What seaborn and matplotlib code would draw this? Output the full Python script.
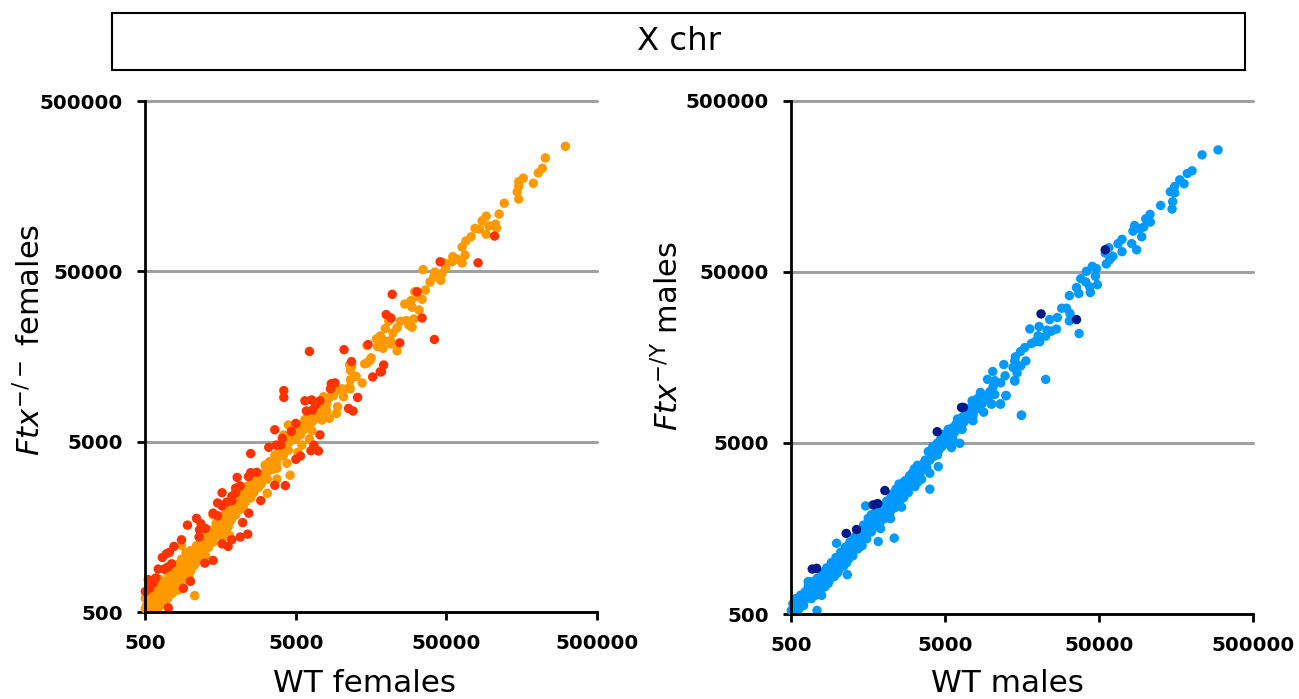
import numpy as np
import pandas as pd
import matplotlib
matplotlib.use("Agg")
import matplotlib.pyplot as plt
from matplotlib.patches import Rectangle
import seaborn as sns

# All points: (WT, mutant) as log10 fold above the axis origin of 500
orange_pts = [
(2.79,2.734),(2.657,2.666),(2.637,2.605),(2.61,2.578),(2.577,2.517),(2.51,2.547),(2.48,2.527),(2.48,2.50),(2.47,2.467),(2.48,2.424),
(2.384,2.40),(2.35,2.336),(2.264,2.324),(2.237,2.297),(2.326,2.277),(2.282,2.267),(2.333,2.254),(2.19,2.252),(2.22,2.248),(2.264,2.218),
(2.164,2.203),(2.129,2.178),(2.104,2.142),(2.124,2.095),(2.042,2.086),(2.07,2.072),(2.104,2.049),(2.038,2.056),(1.987,2.049),(1.994,2.023),
(1.845,2.01),(1.923,1.996),(1.971,1.988),(1.916,1.968),(1.962,1.947),(1.891,1.937),(1.86,1.89),(1.79,1.88),(1.838,1.836),(1.81,1.851),
(1.765,1.828),(1.723,1.808),(1.772,1.789),(1.818,1.773),(1.783,1.72),(1.694,1.707),(1.734,1.711),(1.617,1.707),(1.75,1.685),(1.772,1.672),
(1.672,1.668),(1.594,1.664),(1.645,1.638),(1.561,1.621),(1.535,1.603),(1.583,1.594),(1.628,1.594),(1.632,1.574),(1.472,1.564),(1.543,1.558),
(1.579,1.548),(1.672,1.533),(1.50,1.492),(1.484,1.472),(1.457,1.457),(1.357,1.451),(1.362,1.418),(1.40,1.383),(1.362,1.363),(1.44,1.345),
(1.357,1.32),(1.306,1.31),(1.262,1.305),(1.37,1.44),(1.47,1.46),(1.495,1.48),(1.317,1.307),(1.27,1.30),(1.36,1.31),(1.184,1.264),
(1.23,1.264),(1.317,1.264),(1.277,1.205),(1.27,1.166),(1.206,1.225),(1.206,1.176),(1.222,1.137),(1.173,1.127),(1.118,1.127),(1.14,1.166),
(1.106,1.064),(0.95,1.098),(1.013,1.088),(1.03,1.04),(1.089,1.016),(1.04,0.98),(1.013,0.9375),(0.962,0.803),(0.874,0.781),(0.94,0.873),
(0.81,0.697),(0.874,0.844),(0.796,0.863),(0.825,0.883),(0.918,0.922),(0.874,0.922),(1.03,1.068),(0.918,1.039),(1.095,1.107),
(0.0,0.02),(0.01,0.04),(0.02,0.02),(0.03,0.05),(0.04,0.02),(0.05,0.08),(0.06,0.02),(0.07,0.04),(0.0,0.08),(0.02,0.09),
(0.08,0.09),(0.09,0.03),(0.10,0.07),(0.11,0.12),(0.12,0.05),(0.13,0.08),(0.08,0.14),(0.12,0.16),(0.14,0.18),(0.10,0.19),
(0.15,0.13),(0.16,0.20),(0.17,0.16),(0.18,0.21),(0.19,0.14),(0.20,0.24),(0.21,0.17),(0.22,0.22),(0.23,0.28),(0.24,0.20),
(0.25,0.26),(0.26,0.31),(0.27,0.23),(0.28,0.30),(0.29,0.26),(0.30,0.36),(0.31,0.30),(0.32,0.27),(0.33,0.34),(0.34,0.39),
(0.35,0.32),(0.36,0.37),(0.37,0.34),(0.38,0.42),(0.39,0.36),(0.40,0.40),(0.41,0.45),(0.42,0.38),(0.43,0.43),(0.44,0.48),
(0.45,0.41),(0.46,0.47),(0.47,0.52),(0.48,0.45),(0.49,0.50),(0.50,0.55),(0.51,0.48),(0.52,0.53),(0.53,0.58),(0.54,0.51),
(0.55,0.56),(0.56,0.61),(0.57,0.54),(0.58,0.59),(0.59,0.64),(0.60,0.57),(0.61,0.62),(0.62,0.67),(0.63,0.62),(0.64,0.66),
(0.65,0.70),(0.66,0.64),(0.67,0.69),(0.68,0.74),(0.69,0.67),(0.70,0.72),(0.71,0.76),(0.72,0.70),(0.73,0.75),(0.74,0.79),
(0.75,0.73),(0.76,0.78),(0.78,0.81),(0.80,0.85),(0.82,0.83),(0.84,0.88),(0.86,0.92),(0.88,0.90),(0.90,0.95),(0.92,0.99),
(0.94,1.02),(0.96,1.0),(0.98,1.05),(1.0,1.02),(1.02,1.08),(1.04,1.1),(1.06,1.13),(1.08,1.10),(1.10,1.16),(1.12,1.19),
(1.15,1.17),(1.17,1.22),(0.328,0.096),(0.22,0.13),(0.28,0.19),(0.18,0.11),(0.13,0.13),(0.2,0.17),(0.05,0.11),(0.25,0.21),
(0.30,0.24),(0.15,0.23),(0.22,0.28),(0.27,0.35),(0.24,0.39),(0.33,0.28),(0.40,0.33),(0.38,0.31),(0.52,0.44),(0.55,0.50),
(0.43,0.47),(0.45,0.57),(0.50,0.45),(0.60,0.63),(0.65,0.61),(0.70,0.67),(0.75,0.80),(0.56,0.45),
(0.03,0.10),(0.06,0.06),(0.09,0.10),(0.12,0.11),(0.07,0.12),(0.15,0.08),(0.18,0.15),(0.11,0.16),(0.16,0.14),(0.20,0.13),
(0.23,0.18),(0.19,0.22),(0.26,0.24),(0.29,0.21),(0.24,0.31),(0.31,0.34),(0.34,0.30),(0.28,0.26),(0.36,0.33),(0.39,0.41),
(0.41,0.39),(0.44,0.42),(0.47,0.46),(0.49,0.53),(0.53,0.49),(0.56,0.53),(0.58,0.63),(0.62,0.60),(0.66,0.69),(0.69,0.73),
(0.72,0.74),(0.77,0.75),(0.79,0.80),(0.81,0.78),(0.83,0.87),(0.85,0.84),(0.87,0.87),(0.89,0.94),(0.91,0.92),(0.93,0.96),
(0.95,0.95),(0.97,1.01),(1.0,1.06),(1.05,1.07),(1.09,1.13),(1.11,1.12),(1.14,1.21),(1.18,1.18),(1.20,1.21),(1.25,1.27),
]
red_pts = [
(1.09,1.53),(1.32,1.54),(1.48,1.57),(1.37,1.47),(1.51,1.38),(1.56,1.41),(0.92,1.30),(0.92,1.26),(1.235,1.34),(1.26,1.345),
(1.23,1.31),(1.41,1.26),(1.35,1.195),(1.38,1.18),(1.06,1.24),(1.105,1.245),(1.16,1.24),(1.13,1.215),(1.07,1.18),(1.11,1.185),
(0.86,1.07),(0.97,1.06),(1.0,1.107),(1.16,1.04),(0.91,1.02),(0.82,0.967),(0.87,0.98),(0.90,0.98),(1.12,0.98),(1.10,0.947),
(1.15,0.945),(0.70,0.93),(1.03,0.916),(1.0,0.896),(0.61,0.79),(0.685,0.795),(0.70,0.818),(0.74,0.82),(0.86,0.744),(0.93,0.742),
(0.63,0.74),(0.60,0.727),(0.51,0.70),(0.60,0.70),(0.575,0.68),(0.767,0.654),(0.575,0.654),(0.54,0.645),(0.48,0.64),(0.51,0.623),
(0.687,0.58),(0.45,0.58),(0.48,0.565),(0.34,0.55),(0.647,0.525),(0.28,0.51),(0.37,0.518),(0.40,0.49),(0.36,0.482),(0.357,0.44),
(0.68,0.457),(0.63,0.44),(0.574,0.424),(0.51,0.40),(0.55,0.385),(0.24,0.424),(0.19,0.385),(0.16,0.35),(0.14,0.342),(0.113,0.32),
(0.45,0.303),(0.395,0.287),(0.175,0.283),(0.15,0.264),(0.126,0.252),(0.086,0.252),(0.30,0.18),(0.253,0.139),(0.07,0.20),(0.02,0.19),
(0.053,0.17),(0.03,0.14),(0.0,0.12),(0.153,0.025),
(2.32,2.207),(2.21,2.05),(1.958,2.056),(1.805,1.88),(1.64,1.865),(1.60,1.746),(1.632,1.726),(1.838,1.726),(1.92,1.60),(1.69,1.58),
(1.583,1.45),(1.568,1.41),
]
blue_pts = [
(2.773,2.714),(2.669,2.685),(2.604,2.592),(2.573,2.576),(2.524,2.539),(2.552,2.516),(2.491,2.50),(2.463,2.469),(2.491,2.463),(2.478,2.411),
(2.40,2.389),(2.474,2.368),(2.331,2.337),(2.303,2.311),(2.333,2.292),(2.231,2.272),(2.264,2.253),(2.29,2.263),(2.22,2.239),(2.277,2.206),
(2.149,2.191),(2.123,2.166),(2.212,2.166),(2.244,2.13),(2.149,2.119),(2.063,2.142),(2.04,2.111),(2.09,2.092),(2.069,2.072),(2.047,2.047),
(1.956,2.033),(1.982,2.02),(1.918,2.004),(1.976,1.975),(1.881,1.961),(1.913,1.942),(1.989,1.926),(1.939,1.913),(1.853,1.909),(1.868,1.874),
(1.943,1.88),(1.807,1.862),(1.757,1.788),(1.788,1.788),(1.811,1.757),(1.729,1.734),(1.807,1.714),(1.679,1.722),(1.61,1.681),(1.55,1.667),
(1.723,1.666),(1.69,1.654),(1.662,1.66),(1.87,1.64),(1.653,1.625),(1.604,1.627),(1.614,1.592),(1.582,1.592),(1.56,1.582),(1.517,1.558),
(1.489,1.535),(1.456,1.504),(1.452,1.48),(1.524,1.48),(1.491,1.451),(1.441,1.442),(1.381,1.459),(1.467,1.41),(1.309,1.418),(1.389,1.393),
(1.275,1.372),(1.452,1.366),(1.653,1.372),(1.322,1.364),(1.361,1.352),(1.311,1.329),(1.229,1.296),(1.29,1.30),(1.322,1.284),(1.396,1.278),
(1.247,1.261),(1.301,1.228),(1.359,1.228),(1.175,1.247),(1.203,1.202),(1.16,1.193),(1.495,1.162),(1.182,1.163),(1.127,1.163),
(0.90,0.73),(0.90,0.823),(0.955,0.862),(0.803,0.745),(0.846,0.788),(0.669,0.444),(0.565,0.424),(0.294,0.414),(0.483,0.632),(0.364,0.23),
(0.197,0.109),(0.167,0.021),(0.024,0.015),(1.496,1.163),(1.452,1.362),(1.394,1.276),(1.359,1.228),(1.30,1.228),(1.095,0.998),(1.041,0.973),
(0.716,0.625),(0.645,0.558),(0.446,0.395),
(0.0,0.02),(0.01,0.06),(0.02,0.03),(0.03,0.09),(0.04,0.05),(0.05,0.03),(0.06,0.11),(0.07,0.07),(0.08,0.05),(0.09,0.13),
(0.10,0.09),(0.11,0.16),(0.12,0.12),(0.13,0.09),(0.14,0.19),(0.15,0.14),(0.16,0.11),(0.17,0.21),(0.18,0.17),(0.19,0.14),
(0.20,0.24),(0.21,0.19),(0.22,0.16),(0.23,0.27),(0.24,0.23),(0.25,0.20),(0.26,0.30),(0.27,0.25),(0.28,0.22),(0.29,0.33),
(0.30,0.29),(0.31,0.26),(0.32,0.36),(0.33,0.31),(0.34,0.28),(0.35,0.39),(0.36,0.35),(0.37,0.32),(0.38,0.42),(0.39,0.37),
(0.40,0.34),(0.41,0.45),(0.42,0.41),(0.43,0.38),(0.44,0.48),(0.45,0.43),(0.46,0.40),(0.47,0.52),(0.48,0.47),(0.49,0.44),
(0.50,0.56),(0.51,0.51),(0.52,0.48),(0.53,0.58),(0.54,0.55),(0.55,0.51),(0.56,0.61),(0.57,0.57),(0.58,0.54),(0.59,0.63),
(0.60,0.60),(0.61,0.56),(0.62,0.66),(0.63,0.62),(0.64,0.59),(0.65,0.70),(0.66,0.65),(0.67,0.62),(0.68,0.73),(0.69,0.68),
(0.70,0.65),(0.71,0.75),(0.72,0.71),(0.73,0.68),(0.74,0.78),(0.75,0.74),(0.76,0.71),(0.77,0.81),(0.78,0.77),(0.79,0.75),
(0.80,0.85),(0.81,0.80),(0.82,0.77),(0.83,0.86),(0.84,0.83),(0.86,0.88),(0.88,0.86),(0.90,0.90),(0.91,0.95),(0.92,0.92),
(0.93,0.97),(0.94,0.94),(0.95,1.0),(0.96,0.96),(0.97,1.02),(0.98,0.98),(0.99,1.03),(1.0,1.0),(1.01,1.05),(1.02,1.02),
(1.03,1.07),(1.04,1.04),(1.05,1.09),(1.06,1.06),(1.07,1.11),(1.08,1.08),(1.09,1.13),(1.10,1.10),(1.11,1.15),(1.12,1.12),
(1.13,1.17),(1.14,1.14),(1.15,1.19),(1.16,1.16),(1.17,1.21),(1.18,1.18),(1.19,1.23),(1.20,1.20),(1.22,1.24),(1.24,1.23),
(1.26,1.27),(1.28,1.25),
(0.11,0.19),(0.14,0.11),(0.17,0.13),(0.21,0.22),(0.24,0.18),(0.27,0.29),(0.30,0.24),(0.33,0.36),(0.36,0.30),(0.40,0.41),
(0.44,0.39),(0.47,0.46),(0.50,0.50),(0.52,0.58),(0.55,0.59),(0.58,0.50),(0.62,0.61),(0.64,0.67),(0.68,0.64),(0.70,0.76),
(0.73,0.77),(0.76,0.79),(0.79,0.83),(0.82,0.87),(0.85,0.86),(0.87,0.90),(0.89,0.95),(0.92,0.98),(0.95,0.93),(0.98,1.05),
(1.02,1.08),(1.05,1.02),(1.08,1.14),(1.11,1.08),(1.14,1.20),(1.18,1.13),(1.21,1.26),(1.25,1.18),
]
navy_pts = [
(2.04,2.13),(1.623,1.755),(1.853,1.722),(1.106,1.208),(1.118,1.208),(0.948,1.066),(0.608,0.722),(0.532,0.638),(0.561,0.646),
(0.424,0.494),(0.357,0.471),(0.136,0.263),(0.165,0.267),
]

origin = 500
tick_values = [500, 5000, 50000, 500000]
tick_labels = ["500", "5000", "50000", "500000"]
title = "X chr"
x_labels = ["WT females", "WT males"]
y_labels = [r"$\mathit{Ftx}^{-/-}$ females", r"$\mathit{Ftx}^{-/\mathrm{Y}}$ males"]

sns.set_theme(style="white")
plt.rcParams["font.family"] = ["DejaVu Sans"]
plt.rcParams["mathtext.fontset"] = "dejavusans"
plt.rcParams["text.color"] = "black"

W, H = 1299, 699
fig = plt.figure(figsize=(W / 100, H / 100), dpi=100, facecolor="white")


def frame(pts_list, names):
    rows = []
    for pts, name in zip(pts_list, names):
        for a, b in pts:
            rows.append((origin * 10 ** a, origin * 10 ** b, name))
    return pd.DataFrame(rows, columns=["wt", "ko", "series"])


def panel(box, df, palette, xlabel, ylabel, xlabel_x, ylabel_x, ylabel_y):
    l, r, b, t = box
    ax = fig.add_axes([l / W, 1 - b / H, (r - l) / W, (b - t) / H])
    sns.scatterplot(data=df, x="wt", y="ko", hue="series", palette=palette, s=46,
                    linewidth=0, alpha=1, legend=False, clip_on=False, zorder=3, ax=ax)
    ax.set_xscale("log")
    ax.set_yscale("log")
    ax.set_xlim(500, 500000)
    ax.set_ylim(500, 500000)
    ax.set_xticks(tick_values, tick_labels)
    ax.set_yticks(tick_values, tick_labels)
    ax.minorticks_off()
    ax.tick_params(axis="both", length=6, width=2, color="black", labelsize=14.3,
                   labelcolor="black", pad=10, bottom=True, left=True)
    for lab in ax.get_xticklabels() + ax.get_yticklabels():
        lab.set_fontweight("bold")
    ax.grid(axis="y", color="#a0a0a0", lw=2.2, zorder=1)
    ax.grid(axis="x", visible=False)
    ax.set_axisbelow(True)
    for line in ax.get_ygridlines():
        line.set_clip_on(False)
    for s in ("top", "right"):
        ax.spines[s].set_visible(False)
    for s in ("left", "bottom"):
        ax.spines[s].set_linewidth(2)
        ax.spines[s].set_color("black")
        ax.spines[s].set_zorder(4)
    ax.set_xlabel("")
    ax.set_ylabel("")
    fig.text(xlabel_x / W, 1 - 683 / H, xlabel, ha="center", va="center", fontsize=22.4, color="black")
    fig.text(ylabel_x / W, 1 - ylabel_y / H, ylabel, ha="center", va="center", rotation=90,
             fontsize=22, color="black")
    return ax


left_df = frame([orange_pts, red_pts], ["orange", "red"])
right_df = frame([blue_pts, navy_pts], ["blue", "navy"])
panel((145.3, 597, 612, 101), left_df, {"orange": "#FF9900", "red": "#FF3300"},
      x_labels[0], y_labels[0], 364.5, 30, 340)
panel((791.3, 1253, 614, 101), right_df, {"blue": "#0099FF", "navy": "#001A8C"},
      x_labels[1], y_labels[1], 1007, 668, 336)

fig.add_artist(Rectangle((111.5 / W, 1 - 69.5 / H), 1133.5 / W, 57 / H, transform=fig.transFigure,
                         facecolor="white", edgecolor="black", linewidth=1.5))
fig.text(679.5 / W, 1 - 41 / H, title, ha="center", va="center", fontsize=23.3, color="black")

fig.savefig("out.png", dpi=100)
